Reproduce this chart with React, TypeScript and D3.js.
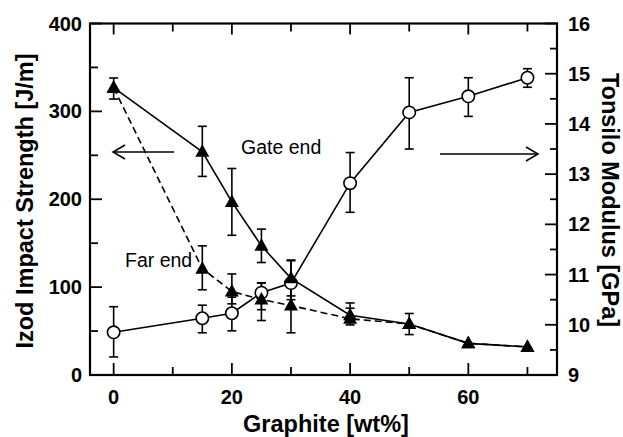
import React from "react";
import * as d3 from "d3";

const graphite = [0, 15, 20, 25, 30, 40, 50, 60, 70];
const gateEnd = [327, 254, 197, 147, 110, 68, 58, 36, 32];
const gateLo = [314, 226, 159, 128, 90, 60, 46, null, null];
const gateHi = [338, 283, 235, 166, 130, 82, 70, null, null];
const farEnd = [327, 121, 95, 86, 79, 64, 58, 36, 32];
const farLo = [null, 97, 81, 62, 48, 57, null, null, null];
const farHi = [null, 147, 115, 105, 100, 76, null, null, null];
const modulus = [9.85, 10.13, 10.23, 10.64, 10.83, 12.82, 14.23, 14.55, 14.92];
const modLo = [9.36, 9.84, 9.88, 10.3, 10.5, 12.24, 13.5, 14.15, 14.73];
const modHi = [10.36, 10.39, 10.55, 10.83, 11.29, 13.43, 14.92, 14.92, 15.1];

const xMajor = [0, 20, 40, 60];
const xMinor = [10, 30, 50, 70];
const yLMajor = [0, 100, 200, 300, 400];
const yLMinor = [50, 150, 250, 350];
const yRMajor = [9, 10, 11, 12, 13, 14, 15, 16];
const yRMinor = [9.5, 10.5, 11.5, 12.5, 13.5, 14.5, 15.5];

const W = 623, H = 437;
const L = 90, R = 557, T = 23.5, B = 375;
const FONT = "'Liberation Sans', Arial, sans-serif";

export default function App() {
  const x = d3.scaleLinear().domain([-4, 75]).range([L, R]);
  const yL = d3.scaleLinear().domain([0, 400]).range([B, T]);
  const yR = d3.scaleLinear().domain([9, 16]).range([B, T]);

  const lineL = d3.line<number>().x((_, i) => x(graphite[i])).y((d) => yL(d));
  const lineR = d3.line<number>().x((_, i) => x(graphite[i])).y((d) => yR(d));

  const tri = (cx: number, cy: number) =>
    `M${cx},${cy - 7.5}L${cx - 7},${cy + 5}L${cx + 7},${cy + 5}Z`;

  const errBar = (key: string, cx: number, y1: number, y2: number) => (
    <g key={key} stroke="#000" strokeWidth={1.6} fill="none">
      <line x1={cx} x2={cx} y1={y1} y2={y2} />
      <line x1={cx - 4.5} x2={cx + 4.5} y1={y1} y2={y1} />
      <line x1={cx - 4.5} x2={cx + 4.5} y1={y2} y2={y2} />
    </g>
  );

  const ticks: JSX.Element[] = [];
  xMajor.forEach((v) => {
    ticks.push(<line key={"xb" + v} x1={x(v)} x2={x(v)} y1={B} y2={B - 12} />);
    ticks.push(<line key={"xt" + v} x1={x(v)} x2={x(v)} y1={T} y2={T + 11} />);
  });
  xMinor.forEach((v) => {
    ticks.push(<line key={"xbm" + v} x1={x(v)} x2={x(v)} y1={B} y2={B - 8} />);
    ticks.push(<line key={"xtm" + v} x1={x(v)} x2={x(v)} y1={T} y2={T + 8} />);
  });
  yLMajor.forEach((v) => ticks.push(<line key={"yl" + v} x1={L} x2={L + 12} y1={yL(v)} y2={yL(v)} />));
  yLMinor.forEach((v) => ticks.push(<line key={"ylm" + v} x1={L} x2={L + 8} y1={yL(v)} y2={yL(v)} />));
  yRMajor.forEach((v) => ticks.push(<line key={"yr" + v} x1={R} x2={R - 12} y1={yR(v)} y2={yR(v)} />));
  yRMinor.forEach((v) => ticks.push(<line key={"yrm" + v} x1={R} x2={R - 7} y1={yR(v)} y2={yR(v)} />));

  return (
    <svg width={W} height={H} style={{ position: "absolute", left: 0, top: 0, background: "#fff" }}>
      <rect x={0} y={0} width={W} height={H} fill="#fff" />
      {/* frame */}
      <rect x={L} y={T} width={R - L} height={B - T} fill="none" stroke="#000" strokeWidth={2.2} />
      <g stroke="#000" strokeWidth={1.8}>{ticks}</g>

      {/* tick labels */}
      <g fontFamily={FONT} fontWeight="bold" fontSize={20} fill="#000">
        {xMajor.map((v) => (
          <text key={"xl" + v} x={x(v)} y={404} textAnchor="middle">{v}</text>
        ))}
        {yLMajor.map((v) => (
          <text key={"yll" + v} x={82} y={yL(v) + 7} textAnchor="end">{v}</text>
        ))}
        {yRMajor.map((v) => (
          <text key={"yrl" + v} x={568} y={yR(v) + 7} textAnchor="start">{v}</text>
        ))}
      </g>

      {/* axis titles */}
      <g fontFamily={FONT} fontWeight="bold" fontSize={23.5} fill="#000">
        <text x={326} y={432} textAnchor="middle">Graphite [wt%]</text>
        <text transform={`translate(33,201) rotate(-90)`} textAnchor="middle">Izod Impact Strength [J/m]</text>
        <text transform={`translate(602,200) rotate(90)`} textAnchor="middle">Tonsilo Modulus [GPa]</text>
      </g>

      {/* lines */}
      <path d={lineL(farEnd) || ""} fill="none" stroke="#000" strokeWidth={1.6} strokeDasharray="7,4" />
      <path d={lineL(gateEnd) || ""} fill="none" stroke="#000" strokeWidth={1.6} />
      <path d={lineR(modulus) || ""} fill="none" stroke="#000" strokeWidth={1.6} />

      {/* error bars */}
      {graphite.map((g, i) =>
        gateLo[i] != null ? errBar("ge" + i, x(g), yL(gateLo[i] as number), yL(gateHi[i] as number)) : null
      )}
      {graphite.map((g, i) =>
        farLo[i] != null ? errBar("fe" + i, x(g), yL(farLo[i] as number), yL(farHi[i] as number)) : null
      )}
      {graphite.map((g, i) => errBar("me" + i, x(g), yR(modLo[i]), yR(modHi[i])))}

      {/* markers */}
      {graphite.map((g, i) => (
        <circle key={"mc" + i} cx={x(g)} cy={yR(modulus[i])} r={6.2} fill="#fff" stroke="#000" strokeWidth={1.6} />
      ))}
      {graphite.map((g, i) => (
        <path key={"ft" + i} d={tri(x(g), yL(farEnd[i]))} fill="#000" />
      ))}
      {graphite.map((g, i) => (
        <path key={"gt" + i} d={tri(x(g), yL(gateEnd[i]))} fill="#000" />
      ))}

      {/* annotations */}
      <g fontFamily={FONT} fontSize={19.5} fill="#000">
        <text x={241} y={154}>Gate end</text>
        <text x={125} y={267}>Far end</text>
      </g>
      <g stroke="#000" strokeWidth={1.5} fill="none">
        <line x1={113} x2={174} y1={152} y2={152} />
        <path d="M125,145 L113,152 L125,159" />
        <line x1={440} x2={538} y1={154} y2={154} />
        <path d="M526,147 L538,154 L526,161" />
      </g>
    </svg>
  );
}
